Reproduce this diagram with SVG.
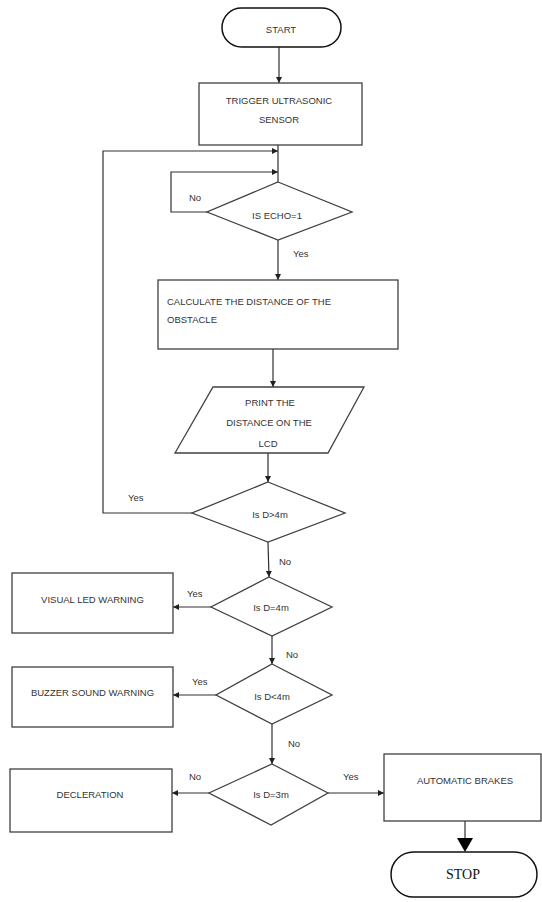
<svg xmlns="http://www.w3.org/2000/svg" width="542" height="902" viewBox="0 0 542 902">
<style>
.box{fill:#fff;stroke:#404040;stroke-width:1.3}
.term{fill:#fff;stroke:#111;stroke-width:1.5}
.ln{fill:none;stroke:#303030;stroke-width:1.2}
.t{font-family:"Liberation Sans",Arial,sans-serif;font-size:9.5px;fill:#333}
.c{text-anchor:middle}
.s{font-family:"Liberation Serif","Times New Roman",serif;font-size:14px;fill:#111;text-anchor:middle}
</style>
<defs>
<marker id="ah" markerUnits="userSpaceOnUse" markerWidth="7" markerHeight="7" refX="6" refY="3" orient="auto">
<path d="M0,0 L6,3 L0,6 z" fill="#202020"/>
</marker>
</defs>
<rect width="542" height="902" fill="#fff"/>
<g id="connectors">
<line class="ln" x1="279" y1="47" x2="279" y2="83" marker-end="url(#ah)"/>
<line class="ln" x1="278" y1="145" x2="278" y2="182"/>
<polyline class="ln" points="207,212 171,212 171,172 278,172" marker-end="url(#ah)"/>
<polyline class="ln" points="192,513 103,513 103,151 278,151" marker-end="url(#ah)"/>
<line class="ln" x1="278" y1="240" x2="278" y2="280" marker-end="url(#ah)"/>
<line class="ln" x1="273" y1="349" x2="273" y2="387" marker-end="url(#ah)"/>
<line class="ln" x1="268" y1="453" x2="268" y2="482" marker-end="url(#ah)"/>
<line class="ln" x1="268" y1="542" x2="269" y2="577" marker-end="url(#ah)"/>
<line class="ln" x1="211" y1="607" x2="173" y2="607" marker-end="url(#ah)"/>
<line class="ln" x1="272" y1="636" x2="272" y2="664" marker-end="url(#ah)"/>
<line class="ln" x1="216" y1="695" x2="173" y2="695" marker-end="url(#ah)"/>
<line class="ln" x1="272" y1="724" x2="272" y2="764" marker-end="url(#ah)"/>
<line class="ln" x1="209" y1="793" x2="172" y2="793" marker-end="url(#ah)"/>
<line class="ln" x1="328" y1="793" x2="384" y2="793" marker-end="url(#ah)"/>
<line class="ln" x1="465" y1="821" x2="465" y2="840"/>
<polygon points="457,838 473,838 465,852" fill="#000"/>
<text class="t" x="189" y="200.5">No</text>
<text class="t" x="293" y="256.5">Yes</text>
<text class="t" x="128" y="500.5">Yes</text>
<text class="t" x="279" y="564.5">No</text>
<text class="t" x="187" y="596.5">Yes</text>
<text class="t" x="286" y="657.5">No</text>
<text class="t" x="192" y="684.5">Yes</text>
<text class="t" x="288" y="746.5">No</text>
<text class="t" x="189" y="779.5">No</text>
<text class="t" x="343" y="779.5">Yes</text>
</g>
<g id="start">
<rect class="term" x="222" y="8" width="119" height="39" rx="19.5"/>
<text class="t c" x="281" y="33">START</text>
</g>
<g id="trigger">
<rect class="box" x="199" y="83" width="163" height="62"/>
<text class="t c" x="279" y="103.5">TRIGGER ULTRASONIC</text>
<text class="t c" x="279" y="122.5">SENSOR</text>
</g>
<g id="echo">
<polygon class="box" points="278,182 352,212 278,240 207,212"/>
<text class="t c" x="277" y="219">IS ECHO=1</text>
</g>
<g id="calculate">
<rect class="box" x="158" y="280" width="240" height="69"/>
<text class="t" x="167" y="304.5">CALCULATE THE DISTANCE OF THE</text>
<text class="t" x="167" y="322.5">OBSTACLE</text>
</g>
<g id="print">
<polygon class="box" points="213,387 364,387 328,453 175,453"/>
<text class="t c" x="270" y="405.5">PRINT THE</text>
<text class="t c" x="269" y="425.5">DISTANCE ON THE</text>
<text class="t c" x="268" y="446.5">LCD</text>
</g>
<g id="d-gt-4">
<polygon class="box" points="268,482 345,513 268,542 192,513"/>
<text class="t c" x="270" y="517.5">Is D&gt;4m</text>
</g>
<g id="d-eq-4">
<polygon class="box" points="269,577 332,607 272,636 211,607"/>
<text class="t c" x="271" y="610.5">Is D=4m</text>
</g>
<g id="visual">
<rect class="box" x="12" y="573" width="161" height="60"/>
<text class="t c" x="92.5" y="602.5">VISUAL LED WARNING</text>
</g>
<g id="d-lt-4">
<polygon class="box" points="272,664 332,695 272,724 216,695"/>
<text class="t c" x="272" y="699.5">Is D&lt;4m</text>
</g>
<g id="buzzer">
<rect class="box" x="12" y="667" width="161" height="60"/>
<text class="t c" x="92.5" y="695.5">BUZZER SOUND WARNING</text>
</g>
<g id="d-eq-3">
<polygon class="box" points="272,764 328,793 271,825 209,793"/>
<text class="t c" x="271" y="798">Is D=3m</text>
</g>
<g id="deceleration">
<rect class="box" x="10" y="769" width="162" height="63"/>
<text class="t c" x="90" y="798">DECLERATION</text>
</g>
<g id="brakes">
<rect class="box" x="384" y="754" width="157" height="67"/>
<text class="t c" x="465" y="783.5">AUTOMATIC BRAKES</text>
</g>
<g id="stop">
<rect class="term" x="391" y="852" width="146" height="45" rx="22.5"/>
<text class="s" x="463" y="878.5">STOP</text>
</g>
</svg>
